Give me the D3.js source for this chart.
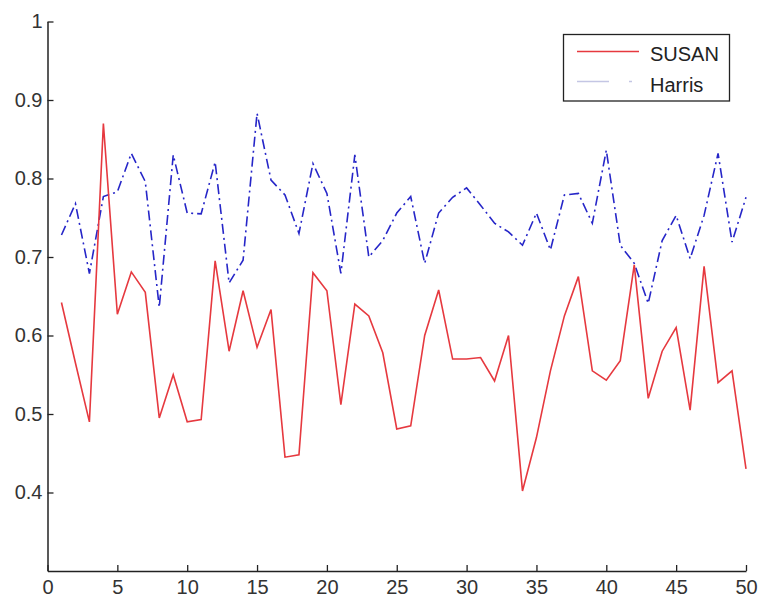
<!DOCTYPE html>
<html>
<head>
  <script src="https://d3js.org/d3.v7.min.js"></script>
  <title>SUSAN vs Harris</title>
  <style>
    body { margin: 0; background: #fff; }
    text { font-family: "Liberation Sans", Arial, sans-serif; }
  </style>
</head>
<body>
  <div id="chart"></div>
  <script>
    // values, one per frame (x = 1..50)
    const frames = d3.range(1, 51);
    const susan = [
      0.642, 0.565, 0.490, 0.870, 0.627, 0.681, 0.655, 0.495, 0.550, 0.490,
      0.493, 0.695, 0.580, 0.657, 0.585, 0.633, 0.445, 0.448, 0.680, 0.657,
      0.512, 0.640, 0.625, 0.578, 0.481, 0.485, 0.600, 0.658, 0.570, 0.570,
      0.572, 0.542, 0.600, 0.402, 0.470, 0.555, 0.625, 0.675, 0.555, 0.543,
      0.568, 0.690, 0.520, 0.580, 0.610, 0.505, 0.688, 0.540, 0.555, 0.430
    ];
    const harris = [
      0.728, 0.768, 0.679, 0.777, 0.783, 0.832, 0.796, 0.636, 0.830, 0.756,
      0.755, 0.821, 0.667, 0.696, 0.883, 0.798, 0.779, 0.730, 0.819, 0.781,
      0.679, 0.830, 0.700, 0.721, 0.756, 0.777, 0.692, 0.756, 0.776, 0.788,
      0.766, 0.743, 0.732, 0.715, 0.756, 0.709, 0.779, 0.781, 0.743, 0.836,
      0.715, 0.692, 0.641, 0.721, 0.753, 0.698, 0.753, 0.832, 0.719, 0.776
    ];
    const xTicks = [0, 5, 10, 15, 20, 25, 30, 35, 40, 45, 50];
    const yTicks = [0.4, 0.5, 0.6, 0.7, 0.8, 0.9, 1];
    const seriesNames = ["SUSAN", "Harris"];

    const W = 759, H = 598;
    const margin = { top: 21.5, right: 13, bottom: 27, left: 47.5 };

    const svg = d3.select("#chart")
      .append("svg")
        .attr("width", W)
        .attr("height", H);

    const x = d3.scaleLinear()
      .domain([0, 50])
      .range([margin.left, W - margin.right]);

    const y = d3.scaleLinear()
      .domain([0.3, 1])
      .range([H - margin.bottom, margin.top]);

    // axes, matlab style: ticks point inward, only left + bottom
    const xAxis = svg.append("g")
      .attr("transform", `translate(0,${H - margin.bottom})`)
      .call(d3.axisBottom(x).tickValues(xTicks).tickSize(-6).tickSizeOuter(0).tickPadding(9));

    const yAxis = svg.append("g")
      .attr("transform", `translate(${margin.left},0)`)
      .call(d3.axisLeft(y).tickValues(yTicks).tickSize(-6).tickSizeOuter(0)
        .tickPadding(5).tickFormat(d => d === 1 ? "1" : d3.format(".1f")(d)));

    [xAxis, yAxis].forEach(g => {
      g.select(".domain").attr("stroke", "#222").attr("stroke-width", 1.5);
      g.selectAll(".tick line").attr("stroke", "#222").attr("stroke-width", 1.3);
      g.selectAll(".tick text")
        .attr("fill", "#333")
        .style("font-size", "20px");
    });
    xAxis.selectAll(".tick text").attr("dy", "0.72em");

    const line = d3.line()
      .x((d, i) => x(frames[i]))
      .y(d => y(d));

    // Harris: blue dash-dot
    svg.append("path")
      .datum(harris)
      .attr("fill", "none")
      .attr("stroke", "#2626c8")
      .attr("stroke-width", 1.6)
      .attr("stroke-dasharray", "10,4,2,4")
      .attr("d", line);

    // SUSAN: red solid
    svg.append("path")
      .datum(susan)
      .attr("fill", "none")
      .attr("stroke", "#e6393f")
      .attr("stroke-width", 1.6)
      .attr("d", line);

    // legend
    const lg = svg.append("g");
    lg.append("rect")
      .attr("x", 563.5).attr("y", 34.5)
      .attr("width", 166).attr("height", 66.5)
      .attr("fill", "#fff")
      .attr("stroke", "#222")
      .attr("stroke-width", 1.3);

    lg.append("line")
      .attr("x1", 577).attr("x2", 639)
      .attr("y1", 51.5).attr("y2", 51.5)
      .attr("stroke", "#e6393f").attr("stroke-width", 1.6);

    lg.append("line")
      .attr("x1", 577).attr("x2", 639)
      .attr("y1", 81.5).attr("y2", 81.5)
      .attr("stroke", "#c4c6e4").attr("stroke-width", 1.6)
      .attr("stroke-dasharray", "32,20,3,20");

    lg.selectAll("text.lbl")
      .data(seriesNames)
      .join("text")
        .attr("class", "lbl")
        .attr("x", 650)
        .attr("y", (d, i) => 61 + i * 30.5)
        .attr("fill", "#222")
        .style("font-size", "20px")
        .text(d => d);
  </script>
</body>
</html>
